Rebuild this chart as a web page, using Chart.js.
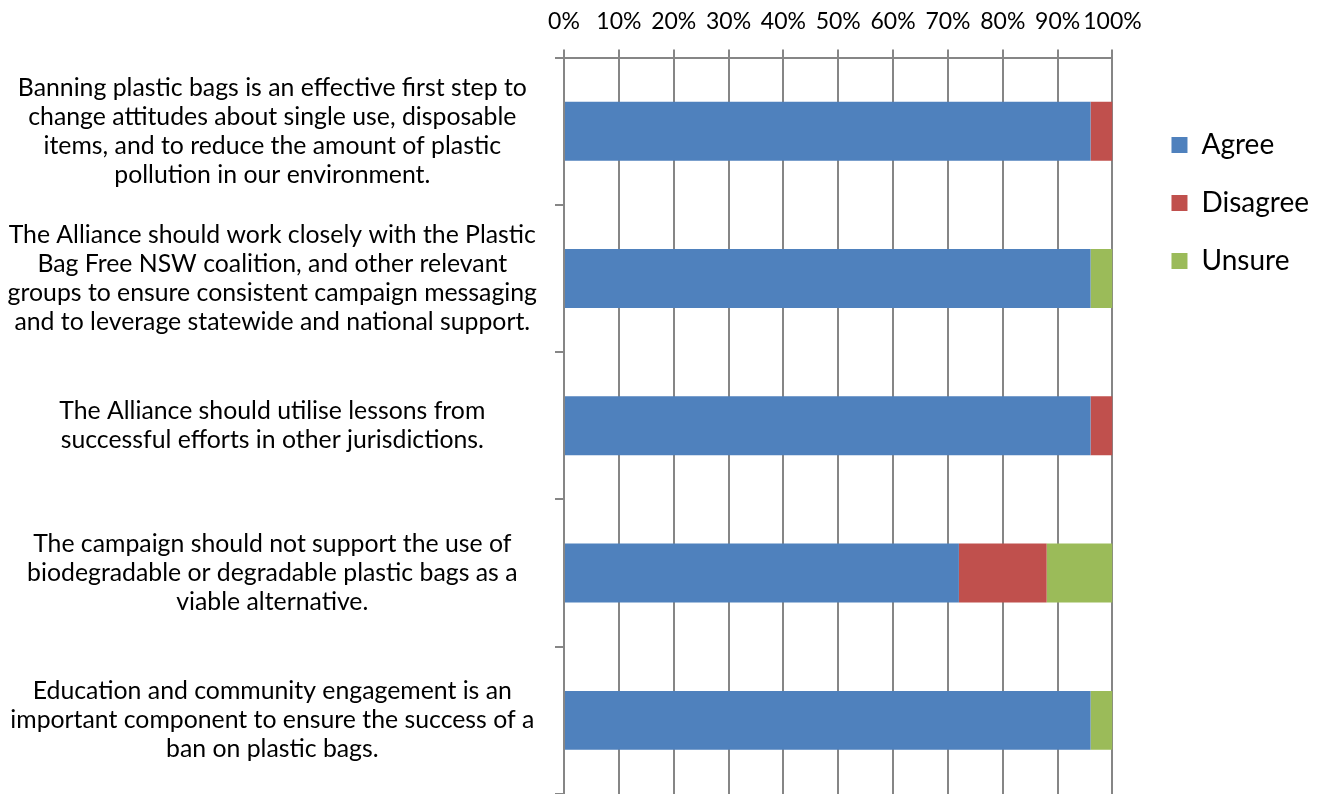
<!DOCTYPE html>
<html>
<head>
<meta charset="utf-8">
<script src="https://cdn.jsdelivr.net/npm/chart.js@4"></script>
<style>
  html, body { margin: 0; padding: 0; background: #fff; }
  #wrap { width: 1319px; height: 794px; }
</style>
</head>
<body>
<div id="wrap"><canvas id="grafico"></canvas></div>
<script>
// statements (one array of lines each)
const statements = [
    ['Banning plastic bags is an effective first step to', 'change attitudes about single use, disposable', 'items, and to reduce the amount of plastic', 'pollution in our environment.'],
    ['The Alliance should work closely with the Plastic', 'Bag Free NSW coalition, and other relevant', 'groups to ensure consistent campaign messaging', 'and to leverage statewide and national support.'],
    ['The Alliance should utilise lessons from', 'successful efforts in other jurisdictions.'],
    ['The campaign should not support the use of', 'biodegradable or degradable plastic bags as a', 'viable alternative.'],
    ['Education and community engagement is an', 'important component to ensure the success of a', 'ban on plastic bags.']
];
const agree = [96, 96, 96, 72, 96];
const disagree = [4, 0, 4, 16, 0];
const unsure = [0, 4, 0, 12, 4];

const fonte = 'Lato, "Open Sans", sans-serif';
const cinza = '#868686';

const ctx = document.getElementById('grafico');

new Chart(ctx, {
    type: 'bar',
    data: {
        labels: statements,
        datasets: [
            { label: 'Agree', data: agree, backgroundColor: '#4F81BD' },
            { label: 'Disagree', data: disagree, backgroundColor: '#C0504D' },
            { label: 'Unsure', data: unsure, backgroundColor: '#9BBB59' }
        ]
    },
    options: {
        indexAxis: 'y',
        responsive: true,
        maintainAspectRatio: false,
        animation: false,
        categoryPercentage: 1,
        barPercentage: 0.4,
        layout: { padding: { left: 0, right: 0, top: -6, bottom: 0 } },
        scales: {
            x: {
                position: 'top',
                stacked: true,
                min: 0,
                max: 100,
                ticks: {
                    stepSize: 10,
                    color: '#000',
                    font: { family: fonte, size: 23 },
                    padding: 14,
                    maxRotation: 0,
                    autoSkip: false,
                    callback: (v) => v + '%'
                },
                grid: { color: cinza, lineWidth: 2, tickLength: 8 },
                border: { color: cinza, width: 2 }
            },
            y: {
                stacked: true,
                ticks: {
                    color: '#000',
                    font: { family: fonte, size: 24.8, lineHeight: 1.17 },
                    crossAlign: 'center',
                    padding: 18
                },
                grid: { color: cinza, lineWidth: 2, drawOnChartArea: false, tickLength: 9, offset: true },
                border: { color: cinza, width: 2 },
                afterFit: (s) => { s.width = 564; s.paddingTop = 0; s.paddingBottom = 0; }
            },
            // espaço entre o gráfico e a legenda
            espaco: {
                type: 'category',
                position: 'right',
                ticks: { display: false },
                grid: { display: false },
                border: { display: false },
                afterFit: (s) => { s.width = 29; }
            }
        },
        plugins: {
            tooltip: { enabled: false },
            legend: {
                position: 'right',
                align: 'start',
                title: { display: true, text: ' ', font: { size: 10 }, padding: { top: 95, bottom: 0 } },
                labels: {
                    color: '#000',
                    font: { family: fonte, size: 28 },
                    boxWidth: 16,
                    boxHeight: 16,
                    padding: 30
                }
            }
        }
    }
});
</script>
</body>
</html>
